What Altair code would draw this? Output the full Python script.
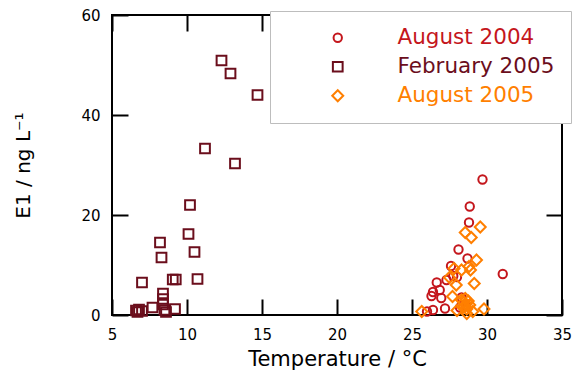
import altair as alt
import pandas as pd

# E1 concentration (ng/L) against water temperature (°C) for three sampling campaigns
series_names = ["August 2004", "February 2005", "August 2005"]
series_colors = ["#c4161c", "#6b0e1c", "#ff7f00"]
series_shapes = ["circle", "square", "diamond"]
series_sizes = [70, 120, 110]

aug2004_temp = [29.7, 28.85, 28.8, 28.1, 28.7, 31.05, 27.6, 28.0, 27.75, 27.3, 26.65,
                26.85, 26.4, 26.3, 26.95, 27.2, 26.4, 26.0, 28.3, 28.6, 28.2]
aug2004_e1 = [27.1, 21.7, 18.5, 13.1, 11.3, 8.2, 9.8, 7.6, 7.8, 7.0, 6.5,
              5.0, 4.6, 3.8, 3.4, 1.3, 1.0, 0.7, 3.5, 2.0, 1.5]

feb2005_temp = [12.3, 12.9, 14.7, 11.2, 13.2, 10.2, 10.1, 8.2, 10.5, 8.3, 7.0, 9.05, 9.25,
                10.7, 8.4, 8.4, 8.4, 6.6, 6.8, 7.0, 6.7, 7.7, 8.5, 8.6, 9.2]
feb2005_e1 = [50.9, 48.3, 44.0, 33.3, 30.3, 22.0, 16.2, 14.5, 12.6, 11.5, 6.5, 7.1, 7.1,
              7.2, 4.3, 3.2, 2.1, 0.9, 1.1, 0.8, 0.6, 1.5, 1.0, 0.6, 1.2]

aug2005_temp = [29.55, 28.55, 28.95, 29.3, 28.8, 28.3, 28.9, 27.8, 27.5, 29.15, 27.95, 27.7,
                28.3, 28.45, 28.6, 28.75, 28.5, 28.4, 28.65, 28.85, 29.8, 28.0, 28.65,
                29.05, 25.65, 28.55]
aug2005_e1 = [17.6, 16.5, 15.5, 11.0, 9.7, 9.0, 9.0, 9.3, 7.5, 6.3, 6.0, 3.7,
              3.0, 2.5, 2.2, 2.8, 1.8, 1.5, 1.2, 2.0, 1.2, 0.9, 0.3,
              0.7, 0.7, 3.3]

x_ticks = [5, 10, 15, 20, 25, 30, 35]
y_ticks = [0, 20, 40, 60]

frames = []
for name, temps, vals in [
    ("August 2004", aug2004_temp, aug2004_e1),
    ("February 2005", feb2005_temp, feb2005_e1),
    ("August 2005", aug2005_temp, aug2005_e1),
]:
    frames.append(pd.DataFrame({"temp": temps, "e1": vals, "series": name}))
df = pd.concat(frames, ignore_index=True)

FONT = "DejaVu Sans"
x_scale = alt.Scale(domain=[5, 35], nice=False, zero=False)
y_scale = alt.Scale(domain=[0, 60], nice=False)

# Axes are pulled inside by the tick length so the ticks point into the plot
tick_common = dict(offset=-16, tickSize=16, tickWidth=2, tickColor="black",
                   domain=False, grid=False)

legend = alt.Legend(
    title=None, orient="none", legendX=158, legendY=-4,
    fillColor="white", strokeColor="#bdbdbd", padding=16, cornerRadius=0,
    symbolOffset=41, labelOffset=49, rowPadding=6,
    labelFont=FONT, labelFontSize=21.5, symbolSize=70, symbolStrokeWidth=2,
    labelColor=alt.ExprRef(expr=(
        "datum.label === 'August 2004' ? '#c4161c' : "
        "(datum.label === 'February 2005' ? '#6b0e1c' : '#ff7f00')")),
)

points = alt.Chart(df).mark_point(filled=False, strokeWidth=2, opacity=1).encode(
    x=alt.X("temp:Q", scale=x_scale, axis=alt.Axis(
        orient="bottom", values=x_ticks, labelPadding=12, labelFont=FONT,
        labelFontSize=15, labelColor="black", labelFlush=False,
        title="Temperature / °C",
        titleFont=FONT, titleFontSize=21, titleFontWeight="normal",
        titleColor="black", titlePadding=6, **tick_common)),
    y=alt.Y("e1:Q", scale=y_scale, axis=alt.Axis(
        orient="left", values=y_ticks, labelPadding=12, labelFont=FONT,
        labelFontSize=15, labelColor="black", labelFlush=False,
        title="E1 / ng L⁻¹",
        titleFont=FONT, titleFontSize=20, titleFontWeight="normal",
        titleColor="black", titlePadding=47, **tick_common)),
    color=alt.Color("series:N", scale=alt.Scale(domain=series_names, range=series_colors),
                    legend=legend),
    shape=alt.Shape("series:N", scale=alt.Scale(domain=series_names, range=series_shapes),
                    legend=legend),
    size=alt.Size("series:N", scale=alt.Scale(domain=series_names, range=series_sizes),
                  legend=None),
)

# Mirror axes on the top and right edges: ticks only
mirror = alt.Chart(df).mark_point(opacity=0).encode(
    x=alt.X("temp:Q", scale=x_scale, axis=alt.Axis(
        orient="top", values=x_ticks, labels=False, title=None, **tick_common)),
    y=alt.Y("e1:Q", scale=y_scale, axis=alt.Axis(
        orient="right", values=y_ticks, labels=False, title=None, **tick_common)),
)

chart = alt.layer(mirror, points).resolve_axis(
    x="independent", y="independent"
).properties(
    width=450, height=300,
    autosize=alt.AutoSizeParams(type="none"),
    padding={"left": 112, "top": 15, "right": 10, "bottom": 61},
).configure(
    background="white",
    view=alt.ViewConfig(stroke="black", strokeWidth=2),
)

chart.save("out.html", embed_options={"renderer": "svg", "actions": False})
